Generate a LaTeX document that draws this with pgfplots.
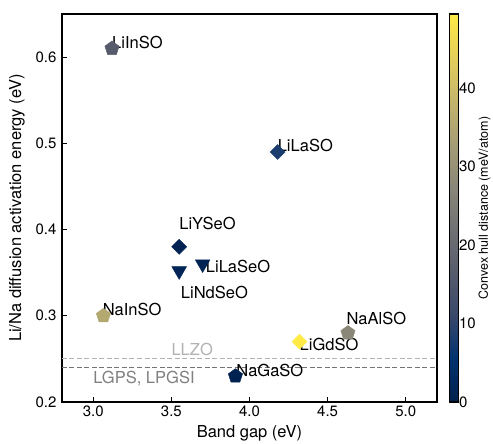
\documentclass[border=0pt]{standalone}
\usepackage{fontspec}
\setmainfont{TeX Gyre Heros}
\usepackage{pgfplots}
\pgfplotsset{compat=1.18}

% cividis colour map, sampled at ten equally spaced stops
\pgfplotsset{
  colormap={cividis}{
    rgb255=(0,32,77) rgb255=(0,51,111) rgb255=(57,72,107) rgb255=(87,92,109)
    rgb255=(112,113,115) rgb255=(138,135,121) rgb255=(166,157,117)
    rgb255=(196,181,108) rgb255=(228,207,91) rgb255=(255,234,70)
  }
}

\newcommand{\lblfont}{\fontsize{16.5}{19}\selectfont}
\newcommand{\tickfont}{\fontsize{15}{18}\selectfont}

\begin{document}
\begin{tikzpicture}
\begin{axis}[
  name=main,
  scale only axis,
  width=375pt, height=388pt,
  xmin=2.8, xmax=5.2, ymin=0.2, ymax=0.65,
  xtick={3.0,3.5,4.0,4.5,5.0},
  ytick={0.2,0.3,0.4,0.5,0.6},
  /pgf/number format/assume math mode=true,
  xticklabel style={/pgf/number format/.cd, fixed, fixed zerofill, precision=1},
  yticklabel style={xshift=-2pt, /pgf/number format/.cd, fixed, fixed zerofill, precision=1},
  tick label style={font=\tickfont},
  label style={font=\lblfont},
  xlabel={Band gap (eV)},
  ylabel={Li/Na diffusion activation energy (eV)},
  xlabel style={yshift=-2pt},
  ylabel style={yshift=4pt},
  tick align=inside, xtick pos=bottom, ytick pos=left,
  major tick length=5pt,
  tick style={black, line width=0.8pt},
  axis line style={line width=1.6pt},
  colormap name=cividis,
  point meta min=0, point meta max=49.4,
  colorbar,
  colorbar style={
    at={(parent axis.north east)}, anchor=north west, xshift=4pt,
    width=9pt,
    ytick={0,10,20,30,40},
    yticklabel style={font=\tickfont, xshift=-3pt, /pgf/number format/assume math mode=true},
    ylabel={Convex hull distance (meV/atom)},
    ylabel style={font=\fontsize{12.5}{15}\selectfont, yshift=4pt},
    major tick length=0pt,
    axis line style={line width=1.6pt},
  },
  clip=false,
]

% reference levels
\addplot[dashed, color=black!30, line width=0.9pt, dash pattern=on 5pt off 2.5pt]
  coordinates {(2.8,0.25) (5.2,0.25)};
\addplot[dashed, color=black!55, line width=0.9pt, dash pattern=on 5pt off 2.5pt]
  coordinates {(2.8,0.24) (5.2,0.24)};
\node[anchor=base west, font=\lblfont, text=black!30, inner sep=0pt] at (axis cs:3.50,0.2545) {LLZO};
\node[anchor=base west, font=\lblfont, text=black!50, inner sep=0pt] at (axis cs:3.0,0.221) {LGPS, LPGSI};

% pentagons
\addplot[scatter, only marks, mark=pentagon*, mark size=7.5pt,
  scatter/use mapped color={draw=mapped color, fill=mapped color},
  point meta=explicit]
  table[x=x, y=y, meta=c] {
x     y     c
3.12  0.61  16.5
3.065 0.30  35.5
4.63  0.28  27.5
3.91  0.23  0.5
};

% diamonds
\addplot[scatter, only marks, mark=square*, mark size=5.3pt,
  mark options={rotate=45},
  scatter/use mapped color={draw=mapped color, fill=mapped color},
  point meta=explicit]
  table[x=x, y=y, meta=c] {
x     y     c
4.18  0.49  8
3.55  0.38  1
4.32  0.27  49.4
};

% downward triangles
\addplot[scatter, only marks, mark=triangle*, mark size=8.5pt,
  mark options={rotate=180},
  scatter/use mapped color={draw=mapped color, fill=mapped color},
  point meta=explicit]
  table[x=x, y=y, meta=c] {
x     y      c
3.70  0.36   1
3.55  0.352  1.5
};

% compound names
\begin{scope}[every node/.style={anchor=base west, font=\lblfont, inner sep=0pt}]
\node at (axis cs:3.12,0.61) {LiInSO};
\node at (axis cs:4.18,0.49) {LiLaSO};
\node at (axis cs:3.55,0.40) {LiYSeO};
\node at (axis cs:3.72,0.35) {LiLaSeO};
\node at (axis cs:3.56,0.32) {LiNdSeO};
\node at (axis cs:3.06,0.30) {NaInSO};
\node at (axis cs:4.62,0.29) {NaAlSO};
\node at (axis cs:4.32,0.26) {LiGdSO};
\node at (axis cs:3.915,0.23) {NaGaSO};
\end{scope}

\end{axis}
% page margins around the plotting area
\pgfresetboundingbox
\path ([shift={(-62pt,-42pt)}]main.south west) rectangle ([shift={(56pt,14pt)}]main.north east);
\end{tikzpicture}
\end{document}
